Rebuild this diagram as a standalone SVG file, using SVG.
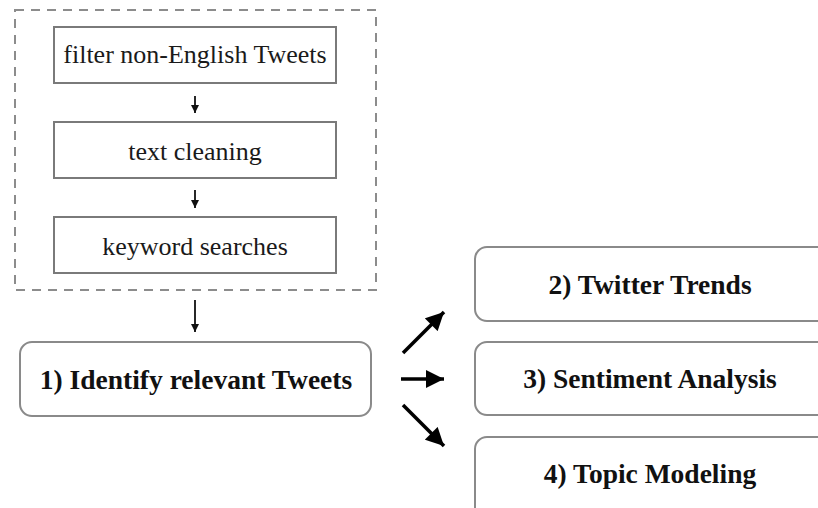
<svg xmlns="http://www.w3.org/2000/svg" width="818" height="508" viewBox="0 0 818 508">
<style>
.box{fill:#fff;stroke:#7a7a7a;stroke-width:2}
.rbox{fill:#fff;stroke:#8a8a8a;stroke-width:2}
.t{font-family:"Liberation Serif","Times New Roman",serif;font-size:26px;fill:#1a1a1a;text-anchor:middle}
.b{font-family:"Liberation Serif","Times New Roman",serif;font-size:27.5px;font-weight:bold;fill:#111;text-anchor:middle}
.thin{stroke:#111;stroke-width:1.8;fill:none}
.thick{stroke:#000;stroke-width:3.5;fill:none}
</style>
<defs>
<marker id="sm" viewBox="0 0 10 10" refX="10" refY="5" markerWidth="10" markerHeight="8" markerUnits="userSpaceOnUse" orient="auto"><path d="M0,0 L10,5 L0,10 Z" fill="#111"/></marker>
<marker id="bg" viewBox="0 0 10 10" refX="10" refY="5" markerWidth="20" markerHeight="18" markerUnits="userSpaceOnUse" orient="auto"><path d="M0,0 L10,5 L0,10 Z" fill="#000"/></marker>
</defs>
<rect width="818" height="508" fill="#fff"/>
<g id="preprocessing">
<rect x="15" y="10" width="361" height="280" fill="none" stroke="#8c8c8c" stroke-width="2" stroke-dasharray="9,7"/>
</g>
<g id="filter">
<rect class="box" x="54" y="27" width="282" height="56"/>
<text class="t" x="195" y="63">filter non-English Tweets</text>
</g>
<g id="cleaning">
<rect class="box" x="54" y="122" width="282" height="56"/>
<text class="t" x="195" y="160">text cleaning</text>
</g>
<g id="keywords">
<rect class="box" x="54" y="217" width="282" height="56"/>
<text class="t" x="195" y="255">keyword searches</text>
</g>
<g id="identify">
<rect class="rbox" x="20" y="342" width="351" height="74" rx="12"/>
<text class="b" x="196" y="389">1) Identify relevant Tweets</text>
</g>
<g id="trends">
<rect class="rbox" x="475" y="247" width="360" height="74" rx="12"/>
<text class="b" x="650" y="294">2) Twitter Trends</text>
</g>
<g id="sentiment">
<rect class="rbox" x="475" y="342" width="360" height="73" rx="12"/>
<text class="b" x="650" y="388">3) Sentiment Analysis</text>
</g>
<g id="topic">
<rect class="rbox" x="475" y="437" width="360" height="90" rx="12"/>
<text class="b" x="650" y="483">4) Topic Modeling</text>
</g>
<g id="connectors">
<line class="thin" x1="195" y1="96" x2="195" y2="113" marker-end="url(#sm)"/>
<line class="thin" x1="195" y1="190" x2="195" y2="208" marker-end="url(#sm)"/>
<line class="thin" x1="195" y1="300" x2="195" y2="332" marker-end="url(#sm)"/>
<line class="thick" x1="403" y1="353" x2="444" y2="312" marker-end="url(#bg)"/>
<line class="thick" x1="401" y1="379" x2="444" y2="379" marker-end="url(#bg)"/>
<line class="thick" x1="403" y1="405" x2="444" y2="446" marker-end="url(#bg)"/>
</g>
</svg>
